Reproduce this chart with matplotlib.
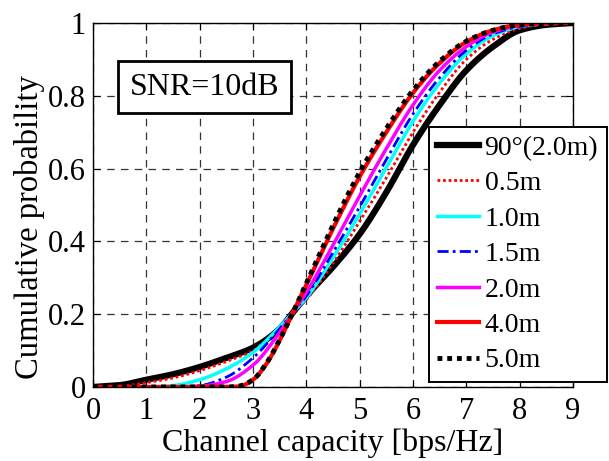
import numpy as np
import matplotlib
matplotlib.use("Agg")
import matplotlib.pyplot as plt

# ---- data ----
x_black = [0, 0.5, 1, 1.5, 2, 2.5, 3, 3.5, 3.75, 4, 4.5, 5, 5.5, 6, 6.5, 7, 7.5, 8, 8.5, 9]
y_black = [0, 0.005, 0.02, 0.035, 0.055, 0.08, 0.108, 0.16, 0.205, 0.25, 0.33, 0.42, 0.535, 0.665, 0.775, 0.87, 0.935, 0.98, 0.995, 1.0]

x_05 = [0, 0.5, 1, 1.5, 2, 2.5, 3, 3.5, 3.75, 4, 4.5, 5, 5.5, 6, 6.5, 7, 7.5, 8, 8.5, 9]
y_05 = [0, 0.002, 0.012, 0.025, 0.045, 0.07, 0.1, 0.165, 0.205, 0.24, 0.34, 0.455, 0.575, 0.7, 0.81, 0.9, 0.955, 0.985, 0.997, 1.0]

x_10 = [0, 1, 1.5, 2, 2.5, 3, 3.5, 3.75, 4, 4.5, 5, 5.5, 6, 6.5, 7, 7.5, 8, 8.5, 9]
y_10 = [0, 0, 0.004, 0.02, 0.05, 0.095, 0.165, 0.205, 0.245, 0.355, 0.475, 0.603, 0.73, 0.835, 0.915, 0.965, 0.99, 0.998, 1.0]

x_15 = [0, 1.5, 2, 2.5, 3, 3.5, 3.75, 4, 4.5, 5, 5.5, 6, 6.5, 7, 7.5, 8, 8.5, 9]
y_15 = [0, 0, 0.004, 0.027, 0.08, 0.16, 0.205, 0.25, 0.37, 0.495, 0.625, 0.75, 0.85, 0.925, 0.97, 0.99, 0.998, 1.0]

x_20 = [0, 1.5, 2, 2.5, 3, 3.5, 3.75, 4, 4.5, 5, 5.5, 6, 6.5, 7, 7.5, 8, 8.5, 9]
y_20 = [0, 0, 0.002, 0.015, 0.06, 0.15, 0.205, 0.26, 0.39, 0.525, 0.655, 0.775, 0.87, 0.935, 0.975, 0.993, 0.999, 1.0]

x_40 = [0, 2.5, 2.75, 3, 3.25, 3.5, 3.75, 4, 4.5, 5, 5.5, 6, 6.5, 7, 7.5, 8, 8.5, 9]
y_40 = [0, 0, 0.002, 0.02, 0.063, 0.128, 0.205, 0.28, 0.435, 0.578, 0.70, 0.808, 0.89, 0.948, 0.98, 0.995, 0.999, 1.0]

x_50 = [0, 2.5, 2.75, 3, 3.25, 3.5, 3.75, 4, 4.5, 5, 5.5, 6, 6.5, 7, 7.5, 8, 8.5, 9]
y_50 = [0, 0, 0.003, 0.02, 0.065, 0.13, 0.205, 0.285, 0.445, 0.59, 0.71, 0.815, 0.895, 0.95, 0.98, 0.995, 0.999, 1.0]

labels = ["90\u00b0(2.0m)", "0.5m", "1.0m", "1.5m", "2.0m", "4.0m", "5.0m"]
x_ticks = [0, 1, 2, 3, 4, 5, 6, 7, 8, 9]
y_ticks = [0, 0.2, 0.4, 0.6, 0.8, 1]
y_tick_labels = ["0", "0.2", "0.4", "0.6", "0.8", "1"]

plt.rcParams['font.family'] = ['Liberation Serif', 'DejaVu Serif']

fig = plt.figure(figsize=(6.09, 4.61), dpi=100)
ax = fig.add_axes([93 / 609, 1 - 387 / 461, (573 - 93) / 609, (387 - 23) / 461])

def smooth(xs, ys):
    xs = np.asarray(xs, float)
    ys = np.asarray(ys, float)
    xx = np.linspace(xs[0], xs[-1], 400)
    # monotone piecewise cubic (PCHIP-like) interpolation for drawing
    h = np.diff(xs)
    d = np.diff(ys) / h
    m = np.zeros_like(ys)
    for i in range(1, len(xs) - 1):
        if d[i - 1] * d[i] <= 0:
            m[i] = 0
        else:
            w1 = 2 * h[i] + h[i - 1]
            w2 = h[i] + 2 * h[i - 1]
            m[i] = (w1 + w2) / (w1 / d[i - 1] + w2 / d[i])
    m[0] = d[0] if d[0] > 0 else 0
    m[-1] = d[-1] if d[-1] > 0 else 0
    idx = np.clip(np.searchsorted(xs, xx) - 1, 0, len(xs) - 2)
    t = (xx - xs[idx]) / h[idx]
    h00 = 2 * t**3 - 3 * t**2 + 1
    h10 = t**3 - 2 * t**2 + t
    h01 = -2 * t**3 + 3 * t**2
    h11 = t**3 - t**2
    yy = h00 * ys[idx] + h10 * h[idx] * m[idx] + h01 * ys[idx + 1] + h11 * h[idx] * m[idx + 1]
    return xx, yy

series = [
    (x_black, y_black, dict(color='black', lw=4.5, ls='-')),
    (x_05, y_05, dict(color='red', lw=2.0, ls=(0, (1, 1)))),
    (x_10, y_10, dict(color='cyan', lw=2.5, ls='-')),
    (x_15, y_15, dict(color='blue', lw=2.0, ls=(0, (4, 1.5, 1, 1.5)))),
    (x_20, y_20, dict(color='magenta', lw=2.5, ls='-')),
    (x_40, y_40, dict(color='red', lw=3.0, ls='-')),
    (x_50, y_50, dict(color='black', lw=3.5, ls=(0, (1, 1)))),
]

for (xs, ys, st), lab in zip(series, labels):
    xx, yy = smooth(xs, ys)
    ax.plot(xx, yy, label=lab, **st)

ax.set_xlim(0, 9)
ax.set_ylim(0, 1)
ax.set_xticks(x_ticks)
ax.set_yticks(y_ticks)
ax.set_yticklabels(y_tick_labels)
ax.tick_params(direction='in', top=True, right=True, labelsize=22, length=5, width=0.8)
ax.tick_params(axis='x', pad=7)
ax.tick_params(axis='y', pad=5)
ax.grid(True, color='#333333', ls=(0, (6, 5)), lw=0.9)
for s in ax.spines.values():
    s.set_linewidth(1.0)

ax.set_xlabel("Channel capacity [bps/Hz]", fontsize=23, labelpad=2)
ax.set_ylabel("Cumulative probability", fontsize=23.5)
ax.yaxis.set_label_coords(-0.1, 0.44)

ax.text(2.09, 0.823, "SNR=10dB", fontsize=23, ha='center', va='center',
        bbox=dict(boxstyle='square,pad=0.36', fc='white', ec='black', lw=2.0))

leg = fig.legend(loc='upper left', bbox_to_anchor=(429 / 609, 1 - 127 / 461),
                 bbox_transform=fig.transFigure, fontsize=20, frameon=True,
                 fancybox=False, edgecolor='black', framealpha=1,
                 borderaxespad=0, borderpad=0.3, labelspacing=0.36,
                 handlelength=1.5, handletextpad=0.2)
leg.get_frame().set_linewidth(1.4)

fig.savefig("out.png", dpi=100)
